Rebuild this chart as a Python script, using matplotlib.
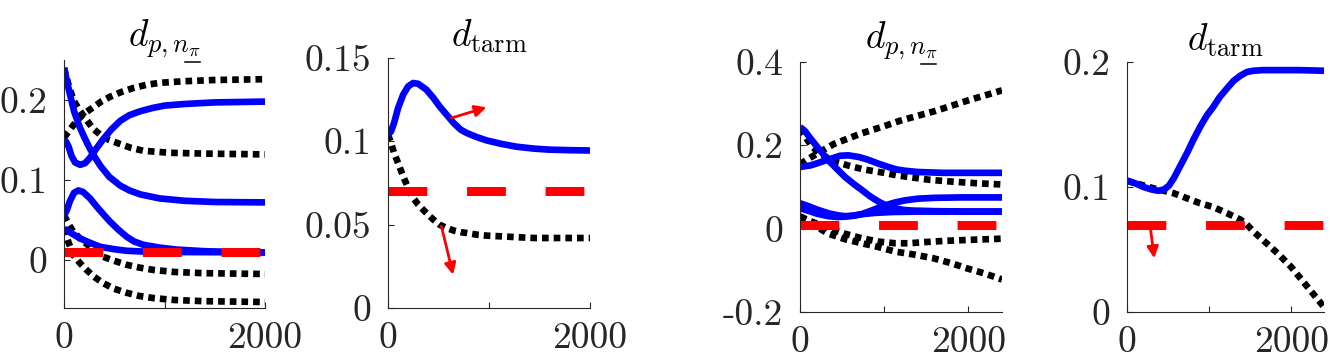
import numpy as np
import matplotlib
matplotlib.use("Agg")
import matplotlib.pyplot as plt
from matplotlib.lines import Line2D
from matplotlib.transforms import IdentityTransform
from matplotlib.mathtext import MathTextParser

plt.rcParams['mathtext.fontset'] = 'cm'
plt.rcParams['font.family'] = ['cmr10', 'DejaVu Serif']
plt.rcParams['axes.linewidth'] = 0.8

# ---- panel 1: d_{p,n_pi}, first case (x, y) pairs per curve
p1_blue = [
    ([0, 50, 100, 150, 200, 250, 300, 360, 450, 560, 650, 760, 950, 1200, 1500, 2000],
     [0.240, 0.212, 0.186, 0.168, 0.154, 0.141, 0.130, 0.118, 0.104, 0.093, 0.087, 0.082, 0.077, 0.074, 0.0725, 0.072]),
    ([0, 20, 45, 75, 110, 160, 210, 260, 320, 390, 470, 560, 650, 760, 880, 1000, 1200, 1500, 2000],
     [0.150, 0.148, 0.142, 0.130, 0.122, 0.119, 0.121, 0.128, 0.139, 0.151, 0.163, 0.174, 0.181, 0.186, 0.190, 0.193, 0.195, 0.197, 0.198]),
    ([0, 30, 60, 100, 143, 190, 259, 330, 400, 458, 540, 624, 700, 790, 950, 1121, 1400, 1700, 2000],
     [0.055, 0.063, 0.074, 0.084, 0.087, 0.085, 0.077, 0.066, 0.056, 0.048, 0.038, 0.029, 0.023, 0.019, 0.0155, 0.013, 0.011, 0.010, 0.0095]),
    ([0, 80, 160, 250, 360, 500, 624, 800, 1000, 2000],
     [0.039, 0.033, 0.027, 0.022, 0.0165, 0.0135, 0.0115, 0.0105, 0.010, 0.0095]),
]
p1_black = [
    ([0, 60, 126, 200, 292, 370, 458, 570, 690, 820, 955, 1200, 1500, 2000],
     [0.153, 0.163, 0.174, 0.183, 0.191, 0.198, 0.204, 0.210, 0.215, 0.219, 0.2215, 0.2235, 0.225, 0.226]),
    ([0, 45, 93, 150, 225, 290, 358, 450, 557, 670, 790, 1055, 1400, 2000],
     [0.240, 0.219, 0.200, 0.188, 0.175, 0.164, 0.157, 0.150, 0.145, 0.140, 0.1365, 0.134, 0.133, 0.132]),
    ([0, 45, 93, 160, 225, 300, 391, 500, 624, 750, 889, 1100, 1400, 2000],
     [0.056, 0.045, 0.035, 0.027, 0.020, 0.012, 0.004, -0.001, -0.006, -0.0095, -0.0124, -0.015, -0.0165, -0.0175]),
    ([0, 45, 93, 160, 225, 300, 391, 500, 624, 750, 889, 1100, 1400, 2000],
     [0.039, 0.022, 0.006, -0.004, -0.0124, -0.021, -0.029, -0.036, -0.041, -0.045, -0.0476, -0.050, -0.0515, -0.0525]),
]
p1_red = 0.0095

# ---- panel 2: d_tarm, first case
p2_blue = [
    ([0, 30, 60, 100, 150, 200, 250, 300, 380, 450, 510, 580, 650, 720, 780, 880, 980, 1120, 1270, 1450, 1600, 1800, 2000],
     [0.104, 0.106, 0.111, 0.120, 0.128, 0.133, 0.135, 0.1345, 0.131, 0.126, 0.121, 0.116, 0.111, 0.107, 0.105, 0.1025, 0.1005, 0.0985, 0.0968, 0.0956, 0.0950, 0.0947, 0.0945]),
]
p2_black = [
    ([0, 30, 60, 100, 150, 200, 250, 300, 380, 450, 510, 580, 650, 720, 780, 880, 980, 1120, 1270, 1450, 1600, 1800, 2000],
     [0.104, 0.099, 0.093, 0.087, 0.079, 0.072, 0.066, 0.062, 0.057, 0.053, 0.050, 0.048, 0.0465, 0.0455, 0.045, 0.044, 0.0434, 0.043, 0.0425, 0.042, 0.042, 0.042, 0.042]),
]
p2_red = 0.07
p2_arrows = [((628, 0.114), (975, 0.1204)), ((529, 0.049), (645, 0.020))]

# ---- panel 3: d_{p,n_pi}, second case
p3_blue = [
    ([0, 60, 130, 230, 337, 440, 536, 640, 734, 830, 932, 1030, 1131, 1230, 1330, 1600, 2000, 2400],
     [0.244, 0.234, 0.215, 0.190, 0.164, 0.143, 0.124, 0.107, 0.093, 0.078, 0.065, 0.055, 0.049, 0.045, 0.0435, 0.042, 0.041, 0.041]),
    ([0, 130, 250, 340, 476, 575, 700, 800, 932, 1050, 1150, 1250, 1400, 1700, 2400],
     [0.148, 0.152, 0.160, 0.166, 0.175, 0.176, 0.172, 0.166, 0.156, 0.148, 0.142, 0.139, 0.136, 0.134, 0.134]),
    ([0, 100, 200, 337, 450, 536, 640, 734, 830, 932, 1030, 1131, 1250, 1400, 1600, 1900, 2400],
     [0.061, 0.054, 0.046, 0.037, 0.032, 0.030, 0.031, 0.035, 0.042, 0.050, 0.057, 0.063, 0.068, 0.072, 0.074, 0.075, 0.075]),
    ([0, 100, 200, 337, 450, 550, 650, 750, 900, 1100, 1400, 2400],
     [0.049, 0.043, 0.036, 0.030, 0.028, 0.029, 0.032, 0.035, 0.038, 0.040, 0.041, 0.041]),
]
p3_black = [
    ([0, 200, 400, 734, 1000, 1188, 1400, 1600, 1800, 2000, 2200, 2400],
     [0.155, 0.180, 0.203, 0.229, 0.246, 0.259, 0.271, 0.282, 0.295, 0.308, 0.320, 0.332]),
    ([0, 137, 250, 410, 600, 760, 1000, 1150, 1400, 1550, 1800, 2100, 2400],
     [0.240, 0.198, 0.178, 0.161, 0.150, 0.142, 0.134, 0.128, 0.121, 0.117, 0.113, 0.109, 0.106]),
    ([0, 150, 337, 530, 734, 930, 1131, 1300, 1500, 1750, 2000, 2400],
     [0.029, 0.016, 0.001, -0.012, -0.023, -0.031, -0.035, -0.035, -0.032, -0.029, -0.027, -0.024]),
    ([0, 150, 337, 530, 734, 930, 1131, 1350, 1584, 1800, 1980, 2200, 2400],
     [0.030, 0.010, -0.012, -0.025, -0.035, -0.044, -0.055, -0.062, -0.071, -0.083, -0.095, -0.108, -0.122]),
]
p3_red = 0.01

# ---- panel 4: d_tarm, second case
p4_blue = [
    ([0, 100, 200, 300, 380, 450, 510, 570, 650, 730, 810, 890, 970, 1050, 1130, 1220, 1300, 1380, 1460, 1540, 1650, 1800, 2100, 2400],
     [0.105, 0.103, 0.100, 0.098, 0.097, 0.098, 0.101, 0.107, 0.117, 0.127, 0.138, 0.148, 0.157, 0.164, 0.172, 0.179, 0.185, 0.189, 0.192, 0.193, 0.1935, 0.1935, 0.1935, 0.193]),
]
p4_black = [
    ([0, 160, 320, 450, 570, 730, 890, 1050, 1220, 1380, 1460, 1540, 1700, 1850, 2000, 2150, 2300, 2400],
     [0.105, 0.102, 0.099, 0.097, 0.095, 0.091, 0.087, 0.084, 0.079, 0.074, 0.070, 0.0644, 0.055, 0.046, 0.036, 0.024, 0.012, 0.004]),
]
p4_red = 0.07
p4_arrows = [((283, 0.0684), (332, 0.043))]

xticks = [0, 1000, 2000]
xticklabels = ['0', '', '2000']
yticks1, ylab1 = [0, 0.1, 0.2], ['0', '0.1', '0.2']
yticks2, ylab2 = [0, 0.05, 0.1, 0.15], ['0', '0.05', '0.1', '0.15']
yticks3, ylab3 = [-0.2, 0, 0.2, 0.4], ['-0.2', '0', '0.2', '0.4']
yticks4, ylab4 = [0, 0.1, 0.2], ['0', '0.1', '0.2']

t_dp = r'$d_{p,n_{\underline{\pi}}}$'
manual_underline = False
try:
    MathTextParser('path').parse(t_dp)
except Exception:
    t_dp = r'$d_{p,n_{\pi}}$'
    manual_underline = True
t_tarm = r'$d_{\mathrm{tarm}}$'

W, H = 1330, 357
fig = plt.figure(figsize=(W / 100, H / 100), dpi=100)

def box(l, t, r, b):
    return [l / W, 1 - b / H, (r - l) / W, (b - t) / H]

panels = [
    (box(64, 60, 265, 308), p1_blue, p1_black, p1_red, [], (0, 2000), (-0.06, 0.25), yticks1, ylab1, t_dp),
    (box(388, 58, 590, 308), p2_blue, p2_black, p2_red, p2_arrows, (0, 2000), (0, 0.15), yticks2, ylab2, t_tarm),
    (box(800, 62, 1002, 312), p3_blue, p3_black, p3_red, [], (0, 2400), (-0.2, 0.4), yticks3, ylab3, t_dp),
    (box(1127, 62, 1324, 312), p4_blue, p4_black, p4_red, p4_arrows, (0, 2400), (0, 0.2), yticks4, ylab4, t_tarm),
]

axes = []
for rect, blues, blacks, red, arrows, xl, yl, yt, ylab, title in panels:
    ax = fig.add_axes(rect)
    for x, y in blacks:
        ax.plot(x, y, color='black', lw=4.8, dashes=(1.0, 0.75), dash_capstyle='butt')
    for x, y in blues:
        ax.plot(x, y, color='blue', lw=4.8, solid_capstyle='butt', solid_joinstyle='round')
    ax.plot(xl, [red, red], color='red', lw=6.5, dashes=(4.3, 4.4), dash_capstyle='butt')
    for (s, e) in arrows:
        ax.annotate('', xy=e, xytext=s,
                    arrowprops=dict(arrowstyle='-|>', color='red', lw=2.0, mutation_scale=17,
                                    shrinkA=0, shrinkB=0))
    ax.set_xlim(*xl)
    ax.set_ylim(*yl)
    ax.set_xticks(xticks)
    ax.set_xticklabels(xticklabels)
    ax.set_yticks(yt)
    ax.set_yticklabels(ylab)
    for side in ['top', 'right']:
        ax.spines[side].set_visible(False)
    for side in ['left', 'bottom']:
        ax.spines[side].set_color('#262626')
    ax.tick_params(direction='in', length=4, width=0.8, colors='#262626',
                   labelsize=27, labelcolor='#262626')
    ax.tick_params(axis='y', pad=12)
    ax.tick_params(axis='x', pad=10)
    ax.set_title(title, fontsize=27, pad=8)
    axes.append(ax)

if manual_underline:
    fig.canvas.draw()
    renderer = fig.canvas.get_renderer()
    for ax in (axes[0], axes[2]):
        bb = ax.title.get_window_extent(renderer)
        yline = bb.y0 - 2
        fig.add_artist(Line2D([bb.x1 - 16, bb.x1 - 1], [yline, yline], color='black',
                              lw=1.1, transform=IdentityTransform()))

fig.savefig('out.png', dpi=100)
